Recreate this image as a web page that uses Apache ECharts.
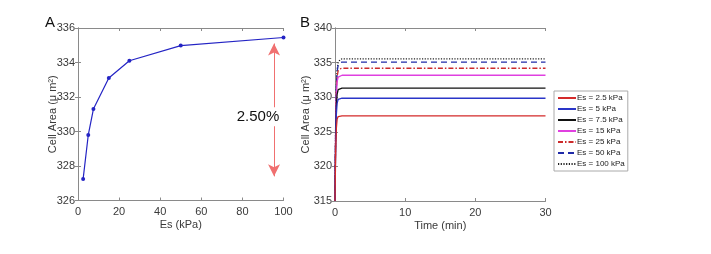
<!DOCTYPE html>
<html><head><meta charset="utf-8">
<script src="https://cdn.jsdelivr.net/npm/echarts@6/dist/echarts.min.js"></script>
<style>html,body{margin:0;padding:0;background:#fff}#c{width:711px;height:254px}</style>
</head><body><div id="c"></div>
<script>
// Panel A data
const esValues = [2.5, 5, 7.5, 15, 25, 50, 100];
const areaA = [327.25, 329.8, 331.3, 333.1, 334.1, 334.98, 335.45];
const arrowX = 95.4;
const arrowTop = 335.1;
const arrowBottom = 327.4;
const arrowText = '2.50%';
const arrowTextPos = [87.6, 330.85];

// Panel B data
const timePts = [0, 0.1, 0.2, 0.3, 0.45, 0.7, 1.0, 30];
const seriesNames = ['Es = 2.5 kPa','Es = 5 kPa','Es = 7.5 kPa','Es = 15 kPa','Es = 25 kPa','Es = 50 kPa','Es = 100 kPa'];
const areaB = [
  [315, 322.6, 325.6, 326.8, 327.2, 327.3, 327.3, 327.3],
  [315, 324.0, 327.6, 329.1, 329.7, 329.85, 329.85, 329.85],
  [315, 324.8, 328.8, 330.4, 331.1, 331.3, 331.3, 331.3],
  [315, 325.8, 330.3, 332.2, 332.9, 333.15, 333.17, 333.17],
  [315, 326.3, 331.0, 333.0, 333.8, 334.1, 334.18, 334.18],
  [315, 326.8, 331.6, 333.7, 334.6, 334.95, 335.08, 335.08],
  [315, 327.0, 331.9, 334.0, 335.0, 335.4, 335.55, 335.55]
];
const xTicksA = [0, 100, 20];
const yTicksA = [326, 336, 2];
const xTicksB = [0, 30, 10];
const yTicksB = [315, 340, 5];

const lineColors = ['#d42a2a','#2a35c8','#111111','#e040e0','#cc2a2a','#1f2aa8','#222222'];
const lineTypes = ['solid','solid','solid','solid',[5,2,1.5,2],[6,4],[1.2,1.5]];

const font = 'Liberation Sans, Arial, Helvetica, sans-serif';
const axCol = '#8a8a8a';
const txtCol = '#3a3a3a';

function axisPair(kind, gridIndex, t, name, nameGap) {
  const base = {
    type: 'value', gridIndex, min: t[0], max: t[1], interval: t[2],
    axisLine: {show: true, lineStyle: {color: axCol, width: 1}},
    axisTick: {show: true, inside: true, length: 3, lineStyle: {color: axCol}},
    splitLine: {show: false}
  };
  const main = Object.assign({}, base, {
    position: kind === 'x' ? 'bottom' : 'left',
    name, nameLocation: 'middle', nameGap, nameMoveOverlap: false,
    nameTextStyle: {color: txtCol, fontSize: 11, fontFamily: font},
    axisLabel: {color: txtCol, fontSize: 11, fontFamily: font, margin: kind === 'x' ? 6 : 3}
  });
  const mirror = Object.assign({}, base, {
    position: kind === 'x' ? 'top' : 'right',
    axisLabel: {show: false}
  });
  return [main, mirror];
}

const xA = axisPair('x', 0, xTicksA, 'Es (kPa)', 19);
const yA = axisPair('y', 0, yTicksA, 'Cell Area (μ m²)', 20);
const xB = axisPair('x', 1, xTicksB, 'Time (min)', 19);
const yB = axisPair('y', 1, yTicksB, 'Cell Area (μ m²)', 24);

const chart = echarts.init(document.getElementById('c'), null, {renderer: 'canvas'});

const seriesB = seriesNames.map((n, i) => ({
  type: 'line', name: n, xAxisIndex: 2, yAxisIndex: 2,
  data: timePts.map((t, j) => [t, areaB[i][j]]),
  symbol: 'none', smooth: false,
  lineStyle: {color: lineColors[i], width: 1.3, type: lineTypes[i]},
  itemStyle: {color: lineColors[i]},
  z: 10 - i
}));

chart.setOption({
  animation: false,
  textStyle: {fontFamily: font},
  title: [
    {text: 'A', left: 40, top: 10, textStyle: {fontSize: 15, fontWeight: 'normal', color: '#111', fontFamily: font}},
    {text: 'B', left: 295, top: 10, textStyle: {fontSize: 15, fontWeight: 'normal', color: '#111', fontFamily: font}}
  ],
  grid: [
    {left: 78, right: 427.5, top: 28, bottom: 53.5},
    {left: 335, right: 165.5, top: 28, bottom: 53}
  ],
  xAxis: [xA[0], xA[1], xB[0], xB[1]],
  yAxis: [yA[0], yA[1], yB[0], yB[1]],
  legend: {
    data: seriesNames, orient: 'vertical', left: 554, top: 91,
    itemWidth: 18, itemHeight: 8, itemGap: 3, padding: [3, 3, 3, 3],
    itemStyle: {opacity: 0},
    borderColor: '#aaa', borderWidth: 1, backgroundColor: '#fff',
    textStyle: {fontSize: 8, color: '#222', fontFamily: font, padding: [0,0,0,-4]},
    selectedMode: false
  },
  series: [
    {
      type: 'line', name: 'A', xAxisIndex: 0, yAxisIndex: 0,
      data: esValues.map((x, i) => [x, areaA[i]]),
      symbol: 'circle', symbolSize: 4,
      lineStyle: {color: '#2424c4', width: 1.2},
      itemStyle: {color: '#2424c4'},
      markLine: {
        silent: true, symbol: ['arrow', 'arrow'], symbolSize: [9, 12],
        lineStyle: {color: '#f07070', width: 1, type: 'solid'},
        itemStyle: {color: '#f03030'},
        label: {show: false},
        data: [[{coord: [arrowX, arrowTop]}, {coord: [arrowX, arrowBottom]}]]
      },
      markPoint: {
        silent: true, symbol: 'rect', symbolSize: 0,
        label: {show: true, formatter: arrowText, fontSize: 15, color: '#111', fontFamily: font,
                backgroundColor: '#fff', padding: [2, 0, 2, 0], position: 'inside'},
        data: [{coord: arrowTextPos}]
      }
    },
    ...seriesB
  ]
});
</script>
</body></html>
